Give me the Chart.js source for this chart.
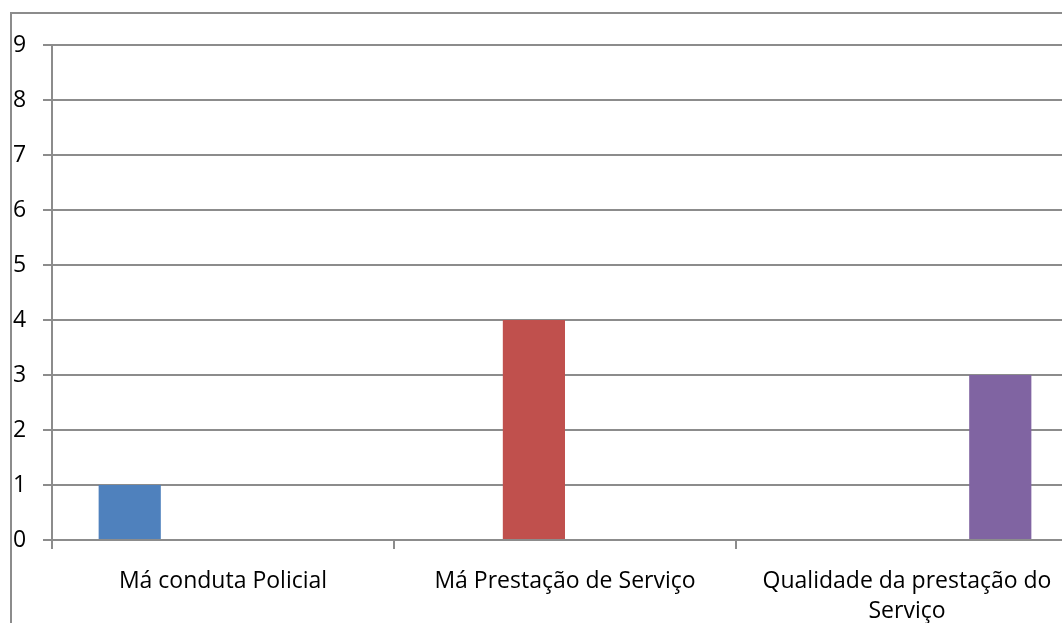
<!DOCTYPE html>
<html>
<head>
<meta charset="utf-8">
<script src="https://cdn.jsdelivr.net/npm/chart.js@4"></script>
<style>
  html, body { margin: 0; padding: 0; background: #fff; overflow: hidden; width: 1062px; height: 623px; }
  #frame { position: absolute; left: 10px; top: 12px; width: 1200px; height: 800px; border: 2px solid #8c8c8c; }
  #chart { position: absolute; left: 0; top: 0; }
</style>
</head>
<body>
<div id="frame"></div>
<canvas id="chart" width="1100" height="623"></canvas>
<script>
// categories (x axis)
const labels = [
  'Má conduta Policial',
  'Má Prestação de Serviço',
  ['Qualidade da prestação do', 'Serviço']
];

// one series per category, as in the sheet
const serie1 = [1, 0, 0];
const serie2 = [0, 4, 0];
const serie3 = [0, 0, 0];
const serie4 = [0, 0, 3];

const yTicksMax = 9;
const yStep = 1;

const gridColor = '#8c8c8c';
const font = { family: 'Open Sans', size: 23, lineHeight: 1.3 };

const config = {
  type: 'bar',
  data: {
    labels,
    datasets: [
      { label: 'Série1', data: serie1, backgroundColor: '#4F81BD' },
      { label: 'Série2', data: serie2, backgroundColor: '#C0504D' },
      { label: 'Série3', data: serie3, backgroundColor: '#9BBB59' },
      { label: 'Série4', data: serie4, backgroundColor: '#8064A2' },
    ],
  },
  options: {
    responsive: false,
    animation: false,
    // excel default gap width 150% -> 4 bars in 5.5 bar widths
    datasets: { bar: { categoryPercentage: 4 / 5.5, barPercentage: 1 } },
    layout: { padding: { left: 13, top: 45, right: 22, bottom: 0 } },
    plugins: { legend: { display: false }, tooltip: { enabled: false } },
    scales: {
      x: {
        offset: true,
        grid: { offset: true, drawOnChartArea: false, drawTicks: true, tickLength: 9, color: gridColor, lineWidth: 2 },
        border: { display: false },
        ticks: { color: '#000', font, padding: 18, maxRotation: 0, autoSkip: false },
        afterFit: (scale) => { scale.height = 83; },
      },
      y: {
        min: 0,
        max: yTicksMax,
        grid: { color: gridColor, tickLength: 9, lineWidth: 2 },
        border: { color: gridColor, width: 2 },
        ticks: { stepSize: yStep, color: '#000', font, crossAlign: 'far', padding: 4 },
        afterFit: (scale) => { scale.width = 39; },
      },
    },
  },
};

new Chart(document.getElementById('chart'), config);
</script>
</body>
</html>
